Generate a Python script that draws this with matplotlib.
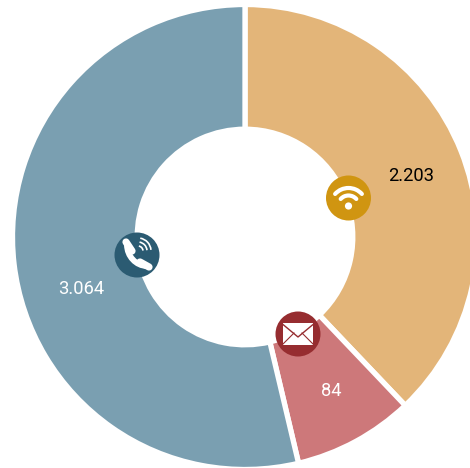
import numpy as np
import matplotlib
matplotlib.use("Agg")
import matplotlib.pyplot as plt
from matplotlib.patches import Circle, Arc, Rectangle, PathPatch
from matplotlib.path import Path

slice_names = ["wifi", "mail", "phone"]
slice_shares = [37.9, 8.4, 53.7]
value_labels = ["2.203", "84", "3.064"]
slice_colors = ["#E3B579", "#CD787A", "#7A9FB1"]
icon_colors = ["#D09511", "#962D30", "#2B5B72"]
label_colors = ["#000000", "#FFFFFF", "#FFFFFF"]

W, H = 470, 468
fig = plt.figure(figsize=(W / 100, H / 100), dpi=100, facecolor="white")
ax = fig.add_axes([0, 0, 1, 1])
ax.set_xlim(0, W)
ax.set_ylim(H, 0)   # pixel-like axes for overlay positions
ax.set_aspect("equal")
ax.axis("off")

cx, cy = 245, 237
R_outer, R_inner = 232.5, 107.8

# pie on an inverted y axis is mirrored vertically, so sweep from the top accordingly
wedges, _ = ax.pie(
    slice_shares, colors=slice_colors, startangle=-90, counterclock=True,
    center=(cx, cy), radius=R_outer, frame=True,
    wedgeprops=dict(width=R_outer - R_inner, edgecolor="white", linewidth=3.8),
)
ax.set_xlim(0, W)
ax.set_ylim(H, 0)
ax.axis("off")

fam = ["Roboto", "DejaVu Sans"]
label_pos = [(411, 176), (331, 391), (81.5, 289)]
for s, (x, y), c in zip(value_labels, label_pos, label_colors):
    ax.text(x, y, s, color=c, fontsize=13.2, family=fam, ha="center", va="center")

icon_pos = [(348.5, 198), (298, 334), (137, 255)]
for (x, y), c in zip(icon_pos, icon_colors):
    ax.add_patch(Circle((x, y), 22.5, fc=c, ec="none", zorder=5))

# wifi glyph
x, y = icon_pos[0]
ax.add_patch(Circle((x, y + 8), 3.6, fc="white", ec="none", zorder=6))
for d, lw in [(36, 3.0), (21, 3.0)]:
    ax.add_patch(Arc((x, y + 8), d, d, theta1=222, theta2=318, ec="white", lw=lw, zorder=6, capstyle="round"))

# envelope glyph
x, y = icon_pos[1]
ax.add_patch(Rectangle((x - 15, y - 11), 30, 22, fc="white", ec="none", zorder=6))
dark = icon_colors[1]
ax.plot([x - 15, x, x + 15], [y - 9.5, y + 3, y - 9.5], color=dark, lw=1.0, zorder=7)
ax.plot([x - 15, x - 4], [y + 10, y - 1], color=dark, lw=0.8, zorder=7)
ax.plot([x + 15, x + 4], [y + 10, y - 1], color=dark, lw=0.8, zorder=7)

# phone glyph
x, y = icon_pos[2]
handset = Path(
    [(x - 10, y - 10), (x - 10, y + 1), (x - 1, y + 11), (x + 10, y + 11)],
    [Path.MOVETO, Path.CURVE4, Path.CURVE4, Path.CURVE4],
)
ax.add_patch(PathPatch(handset, fc="none", ec="white", lw=4.2, zorder=6, capstyle="round"))
for p0, p1 in [((x - 11, y - 13), (x - 5, y - 4)), ((x + 3, y + 7), (x + 12, y + 12))]:
    ax.plot([p0[0], p1[0]], [p0[1], p1[1]], color="white", lw=5.2, solid_capstyle="round", zorder=6)
for d in [10, 18, 26]:
    ax.add_patch(Arc((x + 1, y - 4), d, d, theta1=-80, theta2=-5, ec="white", lw=1.2, zorder=6))

fig.savefig("out.png", dpi=100, facecolor="white")
